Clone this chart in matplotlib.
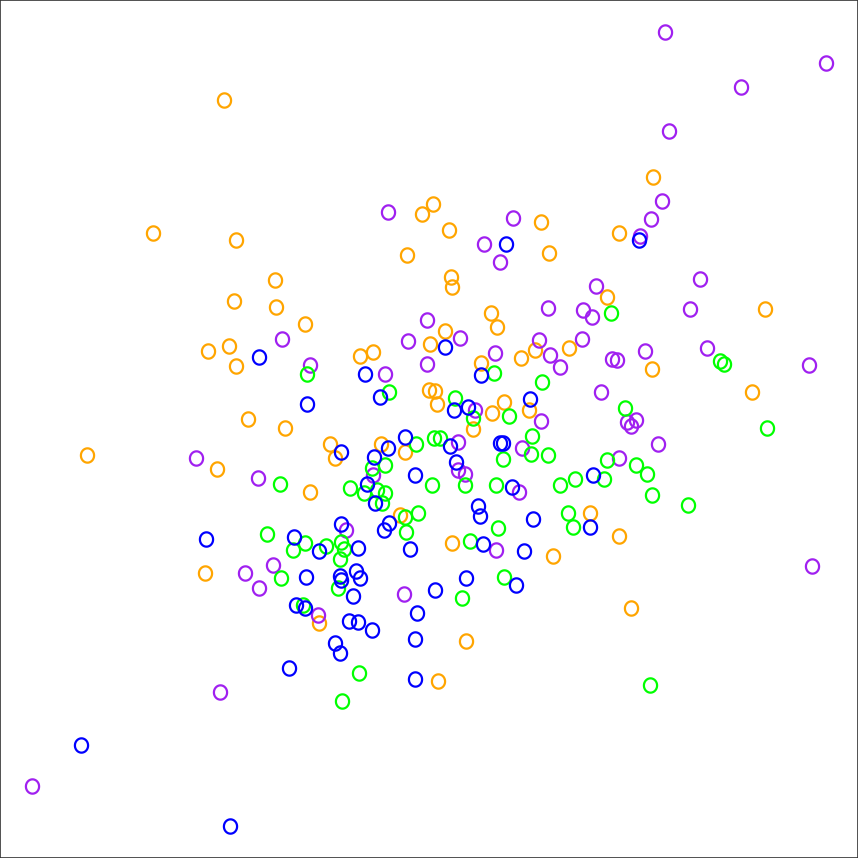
import matplotlib
matplotlib.use("Agg")
import matplotlib.pyplot as plt
import numpy as np
from matplotlib.path import Path

# point positions (x to the right, y downward)
blue_x = [259, 365, 307, 380, 445, 481, 506, 639, 454, 468, 530, 405, 388, 341, 450,
          500, 503, 374, 456, 415, 367, 375, 478, 480, 512, 533, 593, 590, 341, 389,
          384, 294, 319, 358, 410, 483, 524, 206, 306, 340, 341, 356, 360, 466, 516,
          435, 353, 296, 305, 349, 358, 372, 417, 415, 335, 340, 289, 415, 81, 230]
blue_y = [357, 374, 404, 397, 347, 375, 244, 240, 410, 407, 399, 437, 448, 452, 446,
          443, 443, 457, 462, 475, 484, 503, 506, 516, 487, 519, 475, 527, 524, 523,
          530, 537, 551, 548, 549, 544, 551, 539, 577, 576, 580, 571, 578, 578, 585,
          590, 596, 605, 608, 621, 622, 630, 613, 639, 643, 653, 668, 679, 745, 826]

green_x = [307, 389, 494, 542, 611, 455, 473, 509, 434, 440, 416, 532, 503, 531, 548,
           385, 372, 280, 350, 364, 377, 385, 382, 432, 465, 496, 560, 575, 604, 607,
           636, 647, 652, 688, 625, 720, 724, 767, 568, 573, 418, 405, 406, 498, 470,
           267, 305, 293, 326, 341, 344, 340, 281, 338, 462, 504, 303, 359, 342, 650]
green_y = [374, 392, 373, 382, 313, 398, 418, 416, 438, 438, 444, 436, 459, 454, 455,
           465, 468, 484, 488, 493, 490, 493, 503, 485, 485, 485, 485, 479, 479, 460,
           465, 474, 495, 505, 408, 361, 364, 428, 513, 527, 513, 517, 532, 528, 541,
           534, 543, 550, 546, 542, 549, 559, 578, 588, 598, 577, 605, 673, 701, 685]

orange_x = [224, 153, 236, 275, 234, 276, 305, 208, 229, 236, 248, 285, 87, 217, 310,
            330, 335, 205, 319, 360, 373, 407, 422, 433, 449, 451, 452, 445, 430, 491,
            497, 481, 429, 435, 437, 473, 492, 504, 529, 381, 405, 400, 452, 466, 438,
            541, 549, 521, 535, 569, 553, 590, 619, 631, 607, 619, 653, 652, 765, 752]
orange_y = [100, 233, 240, 280, 301, 307, 324, 351, 346, 366, 419, 428, 455, 469, 492,
            444, 458, 573, 623, 356, 352, 255, 214, 204, 230, 277, 287, 331, 344, 313,
            327, 363, 390, 391, 404, 429, 413, 402, 410, 444, 452, 515, 543, 641, 681,
            222, 253, 358, 350, 348, 556, 513, 536, 608, 297, 233, 177, 369, 309, 392]

purple_x = [665, 826, 741, 669, 662, 651, 640, 596, 700, 583, 592, 690, 548, 582, 645,
            707, 612, 617, 809, 601, 627, 636, 631, 658, 619, 812, 388, 513, 484, 500,
            427, 408, 460, 495, 539, 550, 560, 427, 385, 310, 282, 475, 541, 458, 522,
            458, 465, 519, 373, 346, 496, 404, 318, 196, 258, 245, 273, 259, 220, 32]
purple_y = [32, 63, 87, 131, 201, 219, 236, 286, 279, 310, 317, 309, 308, 339, 351,
            348, 359, 360, 365, 392, 422, 420, 426, 444, 458, 566, 212, 218, 244, 262,
            320, 341, 338, 353, 340, 355, 367, 364, 374, 365, 339, 410, 421, 442, 448,
            470, 474, 492, 475, 530, 550, 594, 615, 458, 478, 573, 565, 588, 692, 786]

groups = [
    (orange_x, orange_y, '#FFA500'),
    (purple_x, purple_y, '#A020F0'),
    (green_x, green_y, '#00FF00'),
    (blue_x, blue_y, '#0000FF'),
]

# slightly tall open ellipse, like the letter O
t = np.linspace(0, 2 * np.pi, 60)
ring = Path(np.column_stack([0.46 * np.cos(t), 0.5 * np.sin(t)]), closed=True)

fig = plt.figure(figsize=(8.58, 8.58), dpi=100)
ax = fig.add_axes([0, 0, 1, 1])

for xs, ys, col in groups:
    ax.plot(xs, ys, linestyle='none', marker=ring, markersize=10.3,
            markerfacecolor='none', markeredgecolor=col, markeredgewidth=1.6)

ax.set_xlim(0, 858)
ax.set_ylim(858, 0)
ax.set_xticks([])
ax.set_yticks([])
for sp in ax.spines.values():
    sp.set_color('#333333')
    sp.set_linewidth(1.2)

fig.savefig('out.png', dpi=100)
